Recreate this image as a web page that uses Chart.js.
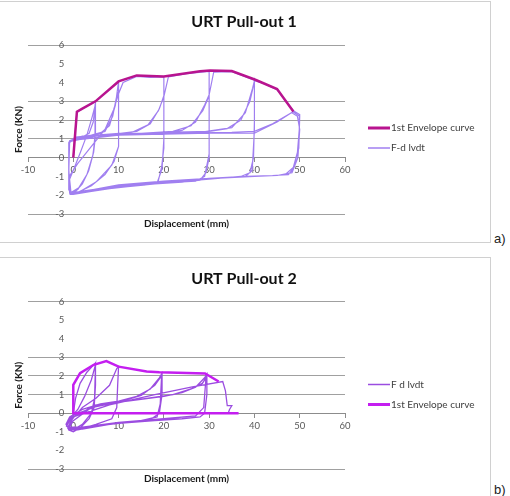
<!DOCTYPE html>
<html>
<head>
<meta charset="utf-8">
<script src="https://cdn.jsdelivr.net/npm/chart.js@4/dist/chart.umd.min.js"></script>
<style>
  body { margin: 0; background: #fff; width: 510px; height: 496px; overflow: hidden; position: relative; font-family: Lato, sans-serif; }
  .box { position: absolute; border: 1px solid #d0d0d0; box-sizing: border-box; }
  canvas { position: absolute; left: 0; }
  .tag { position: absolute; font: 13px "Liberation Sans", Arial, sans-serif; color: #222; }
  .warm { position: absolute; left: -500px; top: 0; }
</style>
</head>
<body>
<div class="warm"><b>URT</b> Pull</div>
<div class="box" style="left:-2px; top:1px; width:493px; height:242px;"></div>
<div class="box" style="left:-2px; top:257px; width:493px; height:260px;"></div>
<canvas id="chart1" width="490" height="243" style="top:0"></canvas>
<canvas id="chart2" width="490" height="246" style="top:250px"></canvas>
<div class="tag" style="left:494px; top:231px;">a)</div>
<div class="tag" style="left:494px; top:482px;">b)</div>
<script>
// axis ticks
const xTicks = [-10, 0, 10, 20, 30, 40, 50, 60];
const yTicks = [-3, -2, -1, 0, 1, 2, 3, 4, 5, 6];
const yGridShown = [6, 3, 2, 1, -3];

// URT Pull-out 1 : envelope (displacement mm, force kN)
const env1 = [[0,0],[0.8,2.45],[1.9,2.6],[4.9,3.0],[10,4.06],[14,4.38],[20,4.32],[28,4.6],[30.2,4.64],[35,4.61],[40.2,4.15],[45,3.65],[48.6,2.46]];

// URT Pull-out 1 : F-d lvdt, one array per amplitude
const fd1Load = [[0,0],[0.3,1.1],[0.8,2.4],[2,2.6],[3.5,2.8],[4.9,3.0]];
const fd1Cyc5 = [[4.9,2.2],[4.9,1.15],[4.5,0.3],[3.4,-0.7],[2,-1.4],[0.5,-1.8],[-0.6,-1.9],[-1,-1.7],[-1,-0.5],[-1,0.7],[-0.6,0.9],[0.5,1.0],[2,1.1],[3.5,1.3],[4.4,1.9],[4.9,2.9],[4.9,1.2],[4.3,0.1],[3,-0.9],[1.2,-1.6],[-0.5,-1.85],[-0.9,-1.2],[0.3,-0.5],[1.6,0.3],[3,1.2],[4.2,2.2],[4.9,2.85],[4.8,1.2],[4.4,0.2],[3,-0.9],[1,-1.7],[-0.7,-1.9],[-1,-1],[-0.9,0.8],[0.5,1.05],[3,1.15],[6,1.3],[8,1.7],[9.3,2.8],[10,4.06]];
const fd1Cyc10 = [[10,2.5],[10,0.6],[9,-0.2],[7,-0.9],[4,-1.5],[1,-1.85],[-0.6,-1.95],[-1,-1.5],[-1,0.8],[0.5,1.05],[4,1.2],[7,1.4],[8.7,2.2],[9.6,3.3],[10,3.5],[10,0.6],[8.5,-0.4],[5,-1.3],[1.5,-1.8],[-0.5,-1.9],[-0.9,-1],[1,-0.3],[4,0.6],[7,1.5],[8.9,2.55],[10,3.4],[11,4.0],[14,4.33],[17,4.28],[20,4.3]];
const fd1Cyc20 = [[20,2.5],[20,0.5],[19.5,-0.5],[18.7,-1.3],[16,-1.45],[12,-1.55],[8,-1.65],[4,-1.8],[0,-1.95],[-0.8,-1.9],[-1,-1],[-0.9,0.85],[0.5,1.1],[5,1.2],[10,1.28],[14,1.4],[17,1.8],[19,2.6],[20,3.3],[20,1.0],[19.6,-0.6],[18.5,-1.35],[14,-1.45],[8,-1.6],[3,-1.8],[-0.5,-1.95],[-1,-0.8],[-0.8,0.9],[2,1.15],[8,1.25],[13,1.35],[16.5,1.75],[18.8,2.5],[20,3.25],[21,4.3],[25,4.48],[30,4.6]];
const fd1Cyc30 = [[30,2],[30,0],[29.3,-0.8],[28,-1.2],[24,-1.3],[18,-1.4],[12,-1.55],[6,-1.7],[1,-1.85],[-0.7,-1.95],[-1,-1.2],[-0.9,0.8],[1,1.1],[8,1.2],[15,1.3],[22,1.4],[26,1.7],[28.6,2.5],[30,3.3],[30,0.2],[29,-1],[27,-1.25],[20,-1.35],[10,-1.5],[2,-1.8],[-0.6,-1.9],[-1,-0.6],[-0.8,0.85],[3,1.15],[12,1.25],[20,1.3],[24,1.45],[27,1.9],[29,2.8],[30,3.35],[31,4.55],[35,4.58],[40,4.12]];
const fd1Cyc40 = [[40,2],[39.8,0],[39,-0.8],[37,-1.0],[30,-1.15],[22,-1.3],[14,-1.45],[6,-1.65],[1,-1.85],[-0.6,-1.95],[-1,-1],[-0.9,0.85],[2,1.1],[10,1.25],[20,1.35],[30,1.4],[34,1.55],[37,2],[39,3],[40,4.05],[40,1.5],[39.5,-0.7],[38,-1.0],[30,-1.1],[20,-1.25],[10,-1.45],[2,-1.8],[-0.6,-1.9],[-1,-0.8],[-0.8,0.9],[4,1.15],[15,1.3],[28,1.35],[35,1.6],[38,2.4],[39.6,3.7],[40,4.1],[42,3.95],[45,3.62],[48.6,2.5],[50,2.3]];
const fd1Cyc50 = [[49.9,1.5],[49.5,0.3],[48.5,-0.6],[47.5,-0.9],[44,-0.95],[38,-1.0],[30,-1.1],[20,-1.3],[10,-1.5],[2,-1.8],[-0.5,-1.9],[-1,-0.8],[-0.9,0.85],[5,1.15],[20,1.3],[35,1.35],[40,1.4],[44,1.8],[48.2,2.4],[49.5,2.2],[50,1.5],[49.6,0],[48.3,-0.8],[45,-0.95],[40,-1.0],[30,-1.12],[20,-1.28],[10,-1.5],[2,-1.78],[-0.5,-1.88],[-1,-0.7],[-0.8,0.9],[10,1.2],[30,1.3],[40,1.3],[45,1.9],[48.5,2.45],[50,2.2],[49.8,0.5],[48.7,-0.5],[47,-0.85]];

// URT Pull-out 2 : envelope
const env2 = [[36.5,0],[0,0],[0,1.52],[1.5,2.15],[4.5,2.6],[7.3,2.8],[10,2.5],[16.2,2.24],[19,2.2],[29.1,2.13],[32.1,1.7]];

// URT Pull-out 2 : F-d lvdt
const fd2Cyc5 = [[0,0],[0.5,0.8],[1.5,1.6],[3,2.2],[4.9,2.7],[4.9,1.5],[4.6,0.3],[3.5,-0.3],[1.5,-0.8],[0,-1.0],[-1,-0.9],[-1.5,-0.6],[-0.5,-0.2],[1,0.2],[2.5,0.9],[4,1.8],[4.9,2.6],[4.7,0.8],[4,0],[2,-0.6],[0,-0.9],[-1.2,-0.8],[-0.5,-0.4],[2,0.3],[5,0.8],[8,1.5],[9.6,2.4],[10,2.5]];
const fd2Cyc10 = [[9.8,1.5],[9.6,0.3],[8.5,-0.3],[5,-0.6],[1,-0.9],[-1,-0.85],[-1.6,-0.6],[-0.8,-0.2],[2,0.2],[6,0.5],[10,0.65],[14,0.9],[17,1.3],[19,1.9],[19.6,2.15]];
const fd2Cyc20 = [[19.6,1.0],[19,0],[17,-0.35],[12,-0.5],[6,-0.65],[1,-0.9],[-1,-0.8],[0,-0.4],[4,0.3],[10,0.6],[15,0.95],[18,1.5],[19.5,2.0],[19.2,0.5],[18.5,-0.2],[14,-0.45],[8,-0.6],[2,-0.85],[-1.2,-0.75],[0,-0.2],[5,0.45],[12,0.65],[20,0.9],[24,1.1],[27,1.4],[29,1.9],[29.5,2.1]];
const fd2Cyc30 = [[29.5,1.0],[29,0],[28,-0.2],[24,-0.3],[18,-0.4],[10,-0.55],[3,-0.75],[-0.5,-0.9],[-1.5,-0.7],[0,-0.1],[6,0.45],[15,0.75],[22,1.0],[26,1.3],[28.5,1.6],[29.3,1.9],[28.8,0.3],[27,-0.15],[20,-0.3],[10,-0.5],[2,-0.75],[-1,-0.75],[0,-0.2],[8,0.45],[18,1.0],[26,1.4],[33,1.7],[33.6,1.2],[34,0.4],[35,0.4],[34.5,0.2],[34.2,0]];

const toXY = arr => arr.map(p => ({ x: p[0], y: p[1] }));

const FONT = 'Lato, sans-serif';
Chart.defaults.font.family = FONT;

// title, axis titles and legend, drawn at fixed offsets from the plot area
const extras = {
  id: 'extras',
  afterDraw(chart, args, opts) {
    const ctx = chart.ctx;
    const a = chart.chartArea;
    ctx.save();
    ctx.textAlign = 'center';
    ctx.textBaseline = 'middle';
    ctx.fillStyle = '#111';
    ctx.font = 'bold 16px ' + FONT;
    ctx.fillText(opts.title, 244, a.top - 23);
    ctx.fillStyle = '#1a1a1a';
    ctx.font = 'bold 10px ' + FONT;
    ctx.fillText(opts.xTitle, (a.left + a.right) / 2, a.bottom + 10);
    ctx.save();
    ctx.translate(19, (a.top + a.bottom) / 2);
    ctx.rotate(-Math.PI / 2);
    ctx.fillText(opts.yTitle, 0, 0);
    ctx.restore();
    ctx.font = '10px ' + FONT;
    ctx.textAlign = 'left';
    ctx.fillStyle = '#404040';
    opts.legend.forEach((idx, i) => {
      const ds = chart.data.datasets[idx];
      const y = a.top + opts.legendTop + i * 20;
      ctx.strokeStyle = ds.borderColor;
      ctx.lineWidth = ds.legendWidth;
      ctx.beginPath();
      ctx.moveTo(a.right + 23, y);
      ctx.lineTo(a.right + 45, y);
      ctx.stroke();
      ctx.fillText(ds.label, a.right + 46, y);
    });
    ctx.restore();
  }
};

function makeOptions(padding, extraOpts) {
  return {
    responsive: false,
    animation: false,
    layout: { padding: padding },
    plugins: {
      legend: { display: false },
      tooltip: { enabled: false },
      title: { display: false },
      extras: extraOpts
    },
    scales: {
      x: {
        type: 'linear',
        position: { y: 0 },
        min: -10, max: 60,
        afterBuildTicks: s => { s.ticks = xTicks.map(v => ({ value: v })); },
        ticks: { color: '#595959', font: { size: 9.5 }, padding: 3 },
        grid: { drawOnChartArea: false, drawTicks: true, tickLength: 4, color: '#8c8c8c' },
        border: { color: '#8c8c8c', width: 1 }
      },
      y: {
        type: 'linear',
        // labels are right-aligned on this position, just left of x = 0
        position: { x: -2 },
        min: -3, max: 6,
        afterBuildTicks: s => { s.ticks = yTicks.map(v => ({ value: v })); },
        ticks: { color: '#595959', font: { size: 9.5 } },
        grid: {
          drawTicks: false,
          color: c => yGridShown.includes(c.tick.value) ? '#a0a0a0' : 'rgba(0,0,0,0)'
        },
        border: { display: false }
      }
    }
  };
}

function draw() {
  new Chart(document.getElementById('chart1'), {
    type: 'scatter',
    data: {
      datasets: [
        {
          label: '1st Envelope curve',
          data: toXY(env1),
          showLine: true, pointRadius: 0, borderWidth: 2.5, legendWidth: 3,
          borderColor: '#b8148f', backgroundColor: '#b8148f', order: 0
        },
        {
          label: 'F-d lvdt',
          data: toXY([].concat(fd1Load, fd1Cyc5, fd1Cyc10, fd1Cyc20, fd1Cyc30, fd1Cyc40, fd1Cyc50)),
          showLine: true, pointRadius: 0, borderWidth: 1.2, legendWidth: 1.5,
          borderColor: '#a07ff0', backgroundColor: '#a07ff0', order: 1
        }
      ]
    },
    options: makeOptions({ left: 28, right: 145, top: 45, bottom: 29 },
      { title: 'URT Pull-out 1', xTitle: 'Displacement (mm)', yTitle: 'Force (KN)', legend: [0, 1], legendTop: 83 }),
    plugins: [extras]
  });

  new Chart(document.getElementById('chart2'), {
    type: 'scatter',
    data: {
      datasets: [
        {
          label: 'F d lvdt',
          data: toXY([].concat(fd2Cyc5, fd2Cyc10, fd2Cyc20, fd2Cyc30)),
          showLine: true, pointRadius: 0, borderWidth: 1.3, legendWidth: 1.5,
          borderColor: '#9b4de0', backgroundColor: '#9b4de0', order: 1
        },
        {
          label: '1st Envelope curve',
          data: toXY(env2),
          showLine: true, pointRadius: 0, borderWidth: 2.5, legendWidth: 3,
          borderColor: '#c41ef0', backgroundColor: '#c41ef0', order: 0
        }
      ]
    },
    options: makeOptions({ left: 28, right: 145, top: 51.5, bottom: 27 },
      { title: 'URT Pull-out 2', xTitle: 'Displacement (mm)', yTitle: 'Force (KN)', legend: [0, 1], legendTop: 83 }),
    plugins: [extras]
  });
}

Promise.all([
  document.fonts.load('bold 16px Lato'),
  document.fonts.load('10px Lato')
]).then(draw, draw);
</script>
</body>
</html>
